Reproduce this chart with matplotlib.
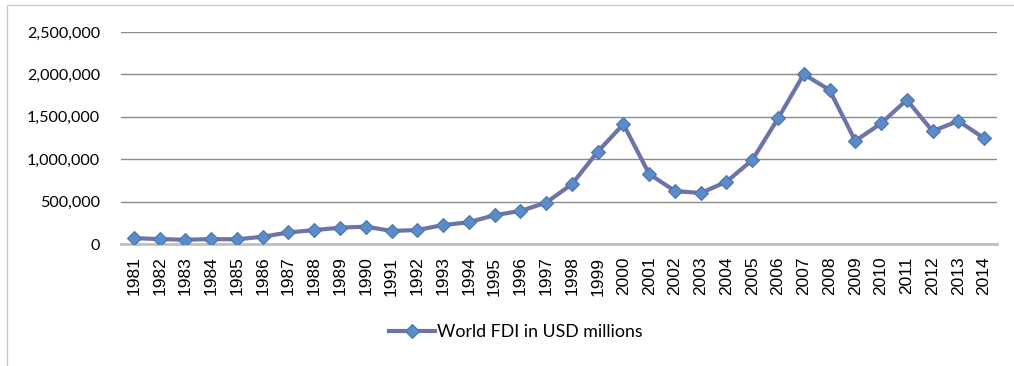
import matplotlib.pyplot as plt
from matplotlib.patches import Rectangle
from matplotlib.ticker import FuncFormatter

years = [str(y) for y in range(1981, 2015)]
fdi = [69000, 58000, 50000, 58000, 55000, 86000, 136000, 164000, 192000, 205000,
       154000, 165000, 223000, 256000, 341000, 389000, 488000, 705000, 1088000, 1413000,
       825000, 625000, 601000, 734000, 990000, 1480000, 2002000, 1816000, 1216000, 1422000,
       1700000, 1330000, 1452000, 1246000]
series_name = 'World FDI in USD millions'
y_ticks = [0, 500000, 1000000, 1500000, 2000000, 2500000]

fig = plt.figure(figsize=(10.14, 3.66), dpi=100)

# light frame round the chart (cropped at right/bottom)
fig.patches.append(Rectangle((7 / 1014, -0.1), 1.2, 1 - 5 / 366 + 0.1,
                             transform=fig.transFigure, fill=False,
                             edgecolor='#c8c8c8', linewidth=1.0))

ax = fig.add_axes([121 / 1014, 1 - 244 / 366, 876 / 1014, 212 / 366])
x = range(len(years))
ax.plot(x, fdi, color='#6e73a8', linewidth=3, marker='D', markersize=7.5,
        markerfacecolor='#5b8bc8', markeredgecolor='#4a74ad', markeredgewidth=0.8,
        label=series_name, zorder=3)

ax.set_xlim(-0.5, len(years) - 0.5)
ax.set_ylim(0, 2500000)
ax.set_yticks(y_ticks)
ax.yaxis.set_major_formatter(FuncFormatter(lambda v, p: f'{int(v):,}'))
ax.set_xticks(list(x))
ax.set_xticklabels(years, rotation=90, fontfamily='Liberation Sans', fontsize=12.5)
for lab in ax.get_yticklabels():
    lab.set_fontfamily('Lato')
    lab.set_fontsize(11.6)
ax.tick_params(axis='y', length=0, pad=15)
ax.tick_params(axis='x', length=0, pad=9)

ax.grid(axis='y', color='#8c8c8c', linewidth=1.0)
ax.set_axisbelow(True)
for side in ['left', 'right', 'top']:
    ax.spines[side].set_visible(False)
ax.spines['bottom'].set_color('#c0c0c0')
ax.spines['bottom'].set_linewidth(2)

fig.legend(loc='center', bbox_to_anchor=(516 / 1014, 1 - 332 / 366), frameon=False,
           prop={'family': 'Lato', 'size': 12.8}, handlelength=2.6, handletextpad=0.1)

fig.savefig('out.png', dpi=100)
